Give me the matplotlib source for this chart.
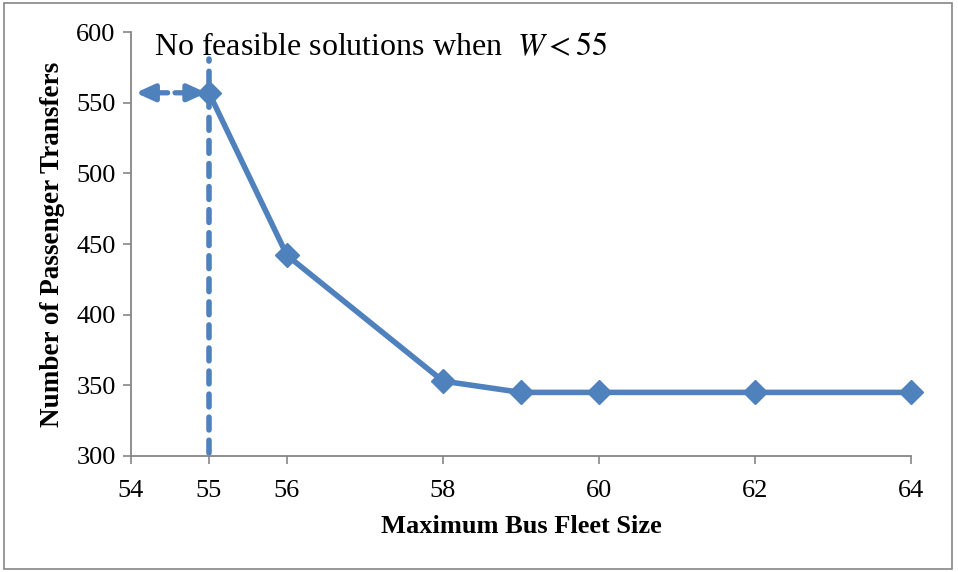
import matplotlib.pyplot as plt
from matplotlib.patches import FancyArrowPatch, Rectangle

fleet_size = [55, 56, 58, 59, 60, 62, 64]
transfers = [557, 442, 353, 345, 345, 345, 345]
x_ticks = [54, 55, 56, 58, 60, 62, 64]
y_ticks = [300, 350, 400, 450, 500, 550, 600]

blue = "#4f81bd"
gray = "#868686"

plt.rcParams["font.family"] = ["Liberation Serif", "DejaVu Serif"]

fig = plt.figure(figsize=(9.58, 5.72), dpi=100)
ax = fig.add_axes([0.1367, 0.2028, 0.951 - 0.1367, 0.944 - 0.2028])

ax.plot(fleet_size, transfers, color=blue, lw=4, marker="D", ms=12,
        markeredgecolor=blue, zorder=3, clip_on=False)

# infeasible boundary at W = 55
ax.plot([55, 55], [302, 581], color=blue, lw=4, ls=(0, (2.3, 1.85)),
        zorder=2, clip_on=False, dash_capstyle="round")

# dashed double arrow pointing into the infeasible region
y_arrow = transfers[0]
for tail, tip in [(54.47, 54.06), (54.565, 54.97)]:
    ax.add_patch(FancyArrowPatch((tail, y_arrow), (tip, y_arrow),
                                 arrowstyle="-|>,head_length=11,head_width=5",
                                 color=blue, lw=3.8, shrinkA=0, shrinkB=0,
                                 zorder=2, clip_on=False))

ax.text(54.3, 589, r"No feasible solutions when  $W < 55$", fontsize=23,
        va="center", ha="left", math_fontfamily="stix")

ax.set_xlim(54, 64)
ax.set_ylim(300, 600)
ax.set_xticks(x_ticks)
ax.set_yticks(y_ticks)
ax.tick_params(labelsize=19, color=gray, length=6, width=1.2, pad=5)
ax.tick_params(axis="x", pad=11)
for s in ["top", "right"]:
    ax.spines[s].set_visible(False)
for s in ["left", "bottom"]:
    ax.spines[s].set_color(gray)
    ax.spines[s].set_linewidth(1.3)

ax.set_xlabel("Maximum Bus Fleet Size", fontsize=19, fontweight="bold", labelpad=10)
ax.set_ylabel("Number of Passenger Transfers", fontsize=19.5, fontweight="bold", labelpad=8)

fig.patches.append(Rectangle((0.004, 0.006), 0.99, 0.988, transform=fig.transFigure,
                             fill=False, edgecolor=gray, lw=1.2))

fig.savefig("out.png", dpi=100)
